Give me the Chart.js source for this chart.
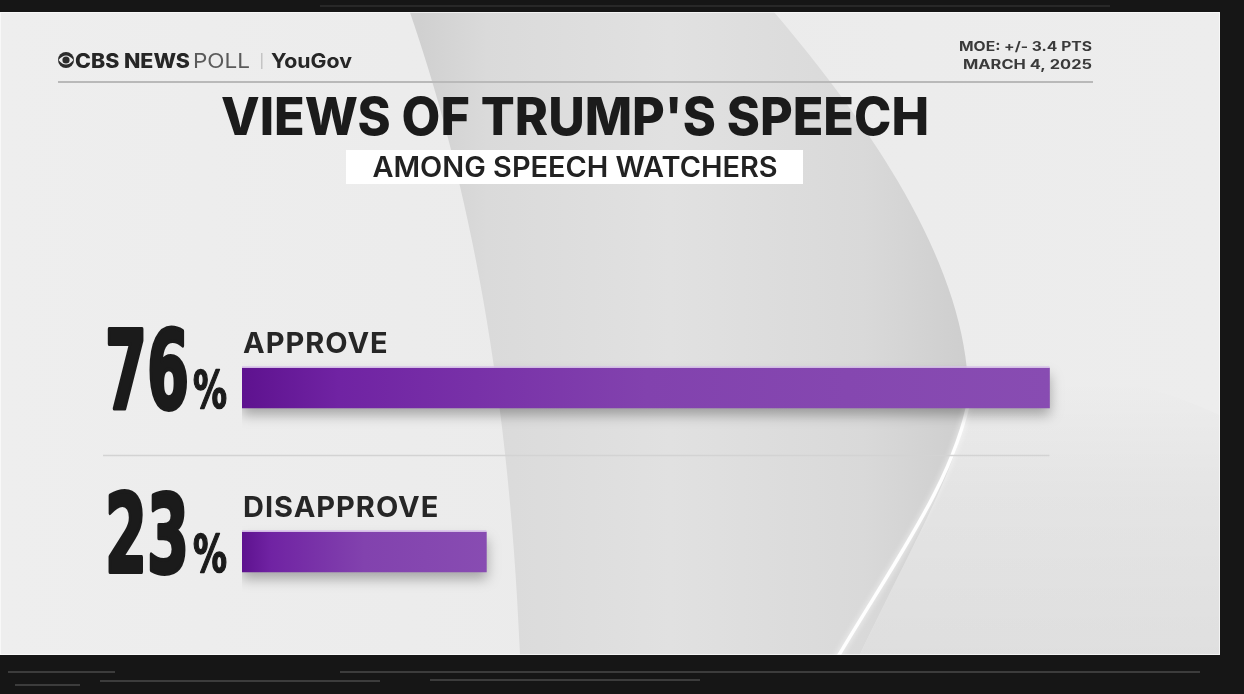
<!DOCTYPE html>
<html>
<head>
<meta charset="utf-8">
<script src="https://cdn.jsdelivr.net/npm/chart.js@4.4.1/dist/chart.umd.min.js"></script>
<style>
  html, body { margin: 0; padding: 0; background: #161616; overflow: hidden; }
  canvas { display: block; }
</style>
</head>
<body>
<canvas id="poll" width="1244" height="694"></canvas>
<script>
// Poll results
const categories = ['APPROVE', 'DISAPPROVE'];
const shares = [76, 23];

// Texts
const titleText = "VIEWS OF TRUMP'S SPEECH";
const subtitleText = 'AMONG SPEECH WATCHERS';
const brandBold = 'CBS NEWS';
const brandLight = 'POLL';
const partnerName = 'YouGov';
const noteLines = ['MOE: +/- 3.4 PTS', 'MARCH 4, 2025'];

const SANS = 'Inter, "Open Sans", "Liberation Sans", sans-serif';
const NARROW = '"Liberation Sans Narrow", "DejaVu Sans Condensed", "Liberation Sans", sans-serif';
const INK = '#1b1b1b';

// draw a string squeezed/stretched to a given width
function fitText(ctx, text, x, y, width, align, heavy) {
  const w = ctx.measureText(text).width;
  const s = width / w;
  ctx.save();
  ctx.translate(x, y);
  ctx.scale(s, 1);
  ctx.textAlign = 'left';
  const ox = align === 'center' ? -w / 2 : align === 'right' ? -w : 0;
  ctx.fillText(text, ox, 0);
  if (heavy) ctx.strokeText(text, ox, 0);
  ctx.restore();
}

// studio backdrop: dark frame, light panel, soft grey sweep
const backdrop = {
  id: 'backdrop',
  beforeDraw(chart) {
    const ctx = chart.ctx;
    const W = chart.width, H = chart.height;
    ctx.save();
    ctx.fillStyle = '#161616';
    ctx.fillRect(0, 0, W, H);

    // faint streaks on the frame
    ctx.strokeStyle = 'rgba(150,150,150,0.3)';
    ctx.lineWidth = 2;
    [[8, 672, 115], [15, 685, 80], [100, 681, 380], [430, 680, 700], [340, 672, 1200]].forEach(([a, y, b]) => {
      ctx.beginPath(); ctx.moveTo(a, y); ctx.lineTo(b, y); ctx.stroke();
    });
    ctx.strokeStyle = 'rgba(150,150,150,0.15)';
    ctx.beginPath(); ctx.moveTo(320, 6); ctx.lineTo(1110, 6); ctx.stroke();

    // panel
    const px = 0, py = 12, pw = 1220, ph = 643;
    ctx.beginPath();
    ctx.rect(px, py, pw, ph);
    ctx.clip();
    const base = ctx.createLinearGradient(0, 0, pw, 0);
    base.addColorStop(0, '#eeeeee');
    base.addColorStop(0.5, '#ebebeb');
    base.addColorStop(1, '#ededed');
    ctx.fillStyle = base;
    ctx.fillRect(px, py, pw, ph);

    // lower right shade, beyond the highlight
    ctx.beginPath();
    ctx.moveTo(830, 720);
    ctx.bezierCurveTo(900, 560, 975, 450, 968, 380);
    ctx.bezierCurveTo(1050, 360, 1150, 380, 1230, 420);
    ctx.lineTo(1230, 720);
    ctx.closePath();
    const lr = ctx.createLinearGradient(0, 380, 0, 660);
    lr.addColorStop(0, 'rgba(0,0,0,0)');
    lr.addColorStop(0.4, 'rgba(0,0,0,0.035)');
    lr.addColorStop(1, 'rgba(0,0,0,0.06)');
    ctx.fillStyle = lr;
    ctx.fill();

    // grey crescent
    ctx.beginPath();
    ctx.moveTo(402, -10);
    ctx.bezierCurveTo(460, 150, 515, 380, 522, 720);
    ctx.lineTo(830, 720);
    ctx.bezierCurveTo(900, 560, 975, 450, 968, 380);
    ctx.bezierCurveTo(960, 250, 860, 110, 755, -10);
    ctx.closePath();
    const sweep = ctx.createLinearGradient(420, 0, 975, 0);
    sweep.addColorStop(0, '#d0d0d0');
    sweep.addColorStop(0.12, '#dadada');
    sweep.addColorStop(0.45, '#e1e1e1');
    sweep.addColorStop(0.8, '#d9d9d9');
    sweep.addColorStop(1, '#cdcdcd');
    ctx.fillStyle = sweep;
    ctx.fill();

    // highlight arc
    ctx.shadowColor = 'rgba(255,255,255,0.9)';
    ctx.shadowBlur = 6;
    ctx.strokeStyle = 'rgba(255,255,255,0.95)';
    ctx.lineWidth = 3.5;
    ctx.lineCap = 'round';
    ctx.beginPath();
    ctx.moveTo(970, 395);
    ctx.bezierCurveTo(955, 480, 895, 560, 833, 665);
    ctx.stroke();
    ctx.restore();

    // panel edge
    ctx.save();
    ctx.strokeStyle = 'rgba(255,255,255,0.6)';
    ctx.lineWidth = 1;
    ctx.strokeRect(px + 0.5, py + 0.5, pw - 1, ph - 1);
    ctx.restore();
  }
};

// soft drop shadow under the bars
const barShadow = {
  id: 'barShadow',
  beforeDatasetsDraw(chart) {
    const ctx = chart.ctx;
    ctx.save();
    ctx.shadowColor = 'rgba(0,0,0,0.3)';
    ctx.shadowBlur = 12;
    ctx.shadowOffsetY = 7;
  },
  afterDatasetsDraw(chart) {
    chart.ctx.restore();
    // pale rim along the top edge of each bar
    const ctx = chart.ctx;
    const meta = chart.getDatasetMeta(0);
    ctx.save();
    ctx.strokeStyle = 'rgba(215,190,235,0.7)';
    ctx.lineWidth = 2;
    meta.data.forEach(el => {
      const top = el.y - el.height / 2 - 1;
      ctx.beginPath();
      ctx.moveTo(el.base, top);
      ctx.lineTo(el.x, top);
      ctx.stroke();
    });
    ctx.restore();
  }
};

// header, title block, row labels and values
const annotations = {
  id: 'annotations',
  afterDraw(chart) {
    const ctx = chart.ctx;
    ctx.save();
    ctx.textBaseline = 'alphabetic';

    // CBS eye
    ctx.fillStyle = '#2b2b2b';
    ctx.beginPath(); ctx.arc(66, 60, 8, 0, Math.PI * 2); ctx.fill();
    ctx.fillStyle = '#eeeeee';
    ctx.beginPath();
    ctx.moveTo(58.5, 60);
    ctx.quadraticCurveTo(66, 51, 73.5, 60);
    ctx.quadraticCurveTo(66, 69, 58.5, 60);
    ctx.fill();
    ctx.fillStyle = '#2b2b2b';
    ctx.beginPath(); ctx.arc(66, 60, 3.6, 0, Math.PI * 2); ctx.fill();

    // brand line
    ctx.fillStyle = '#262626';
    ctx.font = `800 20px ${SANS}`;
    fitText(ctx, brandBold, 75, 68, 115, 'left');
    ctx.fillStyle = '#5a5a5a';
    ctx.font = `400 20px ${SANS}`;
    fitText(ctx, brandLight, 193, 68, 57, 'left');
    ctx.fillStyle = '#c4c4c4';
    ctx.fillRect(261, 53, 1.5, 16);
    ctx.fillStyle = '#262626';
    ctx.font = `700 20px ${SANS}`;
    fitText(ctx, partnerName, 271, 68, 81, 'left');

    // margin of error / date
    ctx.fillStyle = '#3a3a3a';
    ctx.font = `700 13px ${SANS}`;
    fitText(ctx, noteLines[0], 1092, 51, 133, 'right');
    fitText(ctx, noteLines[1], 1092, 69, 129, 'right');

    // header rule
    ctx.fillStyle = '#b9b9b9';
    ctx.fillRect(58, 81, 1035, 2);

    // title
    ctx.fillStyle = INK;
    ctx.font = `800 52px ${SANS}`;
    fitText(ctx, titleText, 575, 135, 708, 'center');

    // subtitle box
    ctx.fillStyle = '#ffffff';
    ctx.fillRect(346, 150, 457, 34);
    ctx.fillStyle = '#222222';
    ctx.font = `600 28px ${SANS}`;
    fitText(ctx, subtitleText, 575, 177, 405, 'center');

    // rows
    const meta = chart.getDatasetMeta(0);
    const xs = chart.scales.x;
    const left = xs.getPixelForValue(0);

    // divider between rows
    if (meta.data.length > 1) {
      const a = meta.data[0], b = meta.data[1];
      const y = Math.round(a.y + (b.y - a.y) * 0.41) + 0.5;
      ctx.strokeStyle = '#d3d3d3';
      ctx.lineWidth = 1.5;
      ctx.beginPath();
      ctx.moveTo(left - 139, y);
      ctx.lineTo(meta.data[0].x, y);
      ctx.stroke();
    }

    meta.data.forEach((el, i) => {
      const top = el.y - el.height / 2;
      const bottom = el.y + el.height / 2;

      // category label
      ctx.fillStyle = '#262626';
      ctx.font = `700 29px ${SANS}`;
      ctx.letterSpacing = '1px';
      ctx.textAlign = 'left';
      ctx.fillText(categories[i], left + 1, top - 15);
      ctx.letterSpacing = '0px';

      // value
      ctx.fillStyle = INK;
      ctx.strokeStyle = INK;
      ctx.lineJoin = 'round';
      ctx.lineWidth = 4;
      ctx.font = `700 108px ${NARROW}`;
      fitText(ctx, String(shares[i]), left - 53, bottom, 84, 'right', true);
      ctx.lineWidth = 1.5;
      ctx.font = `700 52px ${NARROW}`;
      fitText(ctx, '%', left - 15, bottom, 34, 'right', true);
    });

    ctx.restore();
  }
};

// purple gradient fill, dark at the base
function barFill(c) {
  const chart = c.chart;
  if (!chart.chartArea || c.type !== 'data') return '#7a35a8';
  const xs = chart.scales.x;
  const x0 = xs.getPixelForValue(0);
  const x1 = xs.getPixelForValue(c.raw);
  const g = chart.ctx.createLinearGradient(x0, 0, x1, 0);
  g.addColorStop(0, '#5e128f');
  g.addColorStop(0.12, '#7023a3');
  g.addColorStop(0.5, '#8242ae');
  g.addColorStop(1, '#884cb2');
  return g;
}

new Chart(document.getElementById('poll'), {
  type: 'bar',
  data: {
    labels: categories,
    datasets: [{
      data: shares,
      backgroundColor: barFill,
      borderWidth: 0,
      borderSkipped: false,
      barThickness: 40
    }]
  },
  options: {
    indexAxis: 'y',
    responsive: false,
    animation: false,
    events: [],
    layout: { padding: { left: 242, right: 152, top: 306, bottom: 60 } },
    scales: {
      x: { display: false, min: 0, max: 80 },
      y: { display: false }
    },
    plugins: {
      legend: { display: false },
      tooltip: { enabled: false },
      title: { display: false }
    }
  },
  plugins: [backdrop, barShadow, annotations]
});
</script>
</body>
</html>
